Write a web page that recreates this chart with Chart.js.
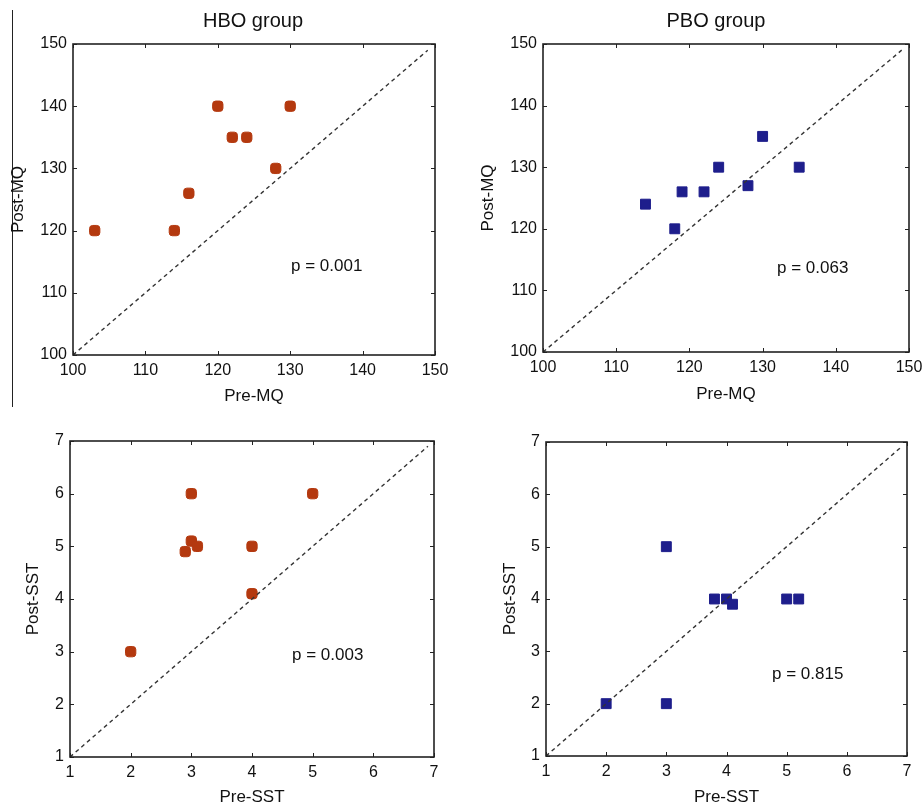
<!DOCTYPE html>
<html>
<head>
<meta charset="utf-8">
<script src="https://cdn.jsdelivr.net/npm/chart.js@4"></script>
<style>
  body { margin: 0; background: #fff; }
  #wrap { position: relative; width: 923px; height: 809px; }
  #wrap canvas { position: absolute; }
  #rule { position: absolute; left: 12px; top: 10px; width: 1px; height: 397px; background: #222; }
</style>
</head>
<body>
<div id="wrap">
  <div id="rule"></div>
  <canvas id="c1" style="left:0;top:0"></canvas>
  <canvas id="c2" style="left:461px;top:0"></canvas>
  <canvas id="c3" style="left:0;top:410px"></canvas>
  <canvas id="c4" style="left:461px;top:410px"></canvas>
</div>
<script>
// values
const hboPreMQ = [103, 114, 116, 120, 122, 124, 128, 130];
const hboPostMQ = [120, 120, 126, 140, 135, 135, 130, 140];
const pboPreMQ = [114, 118, 119, 122, 124, 128, 130, 135];
const pboPostMQ = [124, 120, 126, 126, 130, 127, 135, 130];
const hboPreSST = [2, 2.9, 3, 3.1, 3, 4, 4, 5];
const hboPostSST = [3, 4.9, 5.1, 5, 6, 5, 4.1, 6];
const pboPreSST = [2, 3, 3, 3.8, 4, 4.1, 5, 5.2];
const pboPostSST = [2, 5, 2, 4, 4, 3.9, 4, 4];

const mqTicks = [100, 110, 120, 130, 140, 150];
const sstTicks = [1, 2, 3, 4, 5, 6, 7];
const mqDiag = [100, 149];
const sstDiag = [1, 6.9];

const groupTitles = ["HBO group", "PBO group"];
const pValues = ["p = 0.001", "p = 0.063", "p = 0.003", "p = 0.815"];

const FONT = "'Liberation Sans', Arial, sans-serif";
const HBO_COLOR = "#b4390f";
const PBO_COLOR = "#1e1e8c";

// draws frame, inward ticks and the free texts
const framePlugin = {
    id: "frame",
    afterDatasetsDraw(chart, args, opts) {
        const ctx = chart.ctx;
        const a = chart.chartArea;
        const xs = chart.scales.x;
        const ys = chart.scales.y;
        ctx.save();
        ctx.strokeStyle = "#222";
        ctx.lineWidth = 1;
        xs.ticks.forEach(t => {
            const px = Math.round(xs.getPixelForValue(t.value)) + 0.5;
            ctx.beginPath();
            ctx.moveTo(px, a.bottom); ctx.lineTo(px, a.bottom - 4);
            ctx.moveTo(px, a.top); ctx.lineTo(px, a.top + 4);
            ctx.stroke();
        });
        ys.ticks.forEach(t => {
            const py = Math.round(ys.getPixelForValue(t.value)) + 0.5;
            ctx.beginPath();
            ctx.moveTo(a.left, py); ctx.lineTo(a.left + 4, py);
            ctx.moveTo(a.right, py); ctx.lineTo(a.right - 4, py);
            ctx.stroke();
        });
        ctx.lineWidth = 1.6;
        ctx.strokeRect(a.left, a.top, a.right - a.left, a.bottom - a.top);

        ctx.fillStyle = "#111";
        ctx.textBaseline = "middle";
        if (opts.title) {
            ctx.font = "20px " + FONT;
            ctx.textAlign = "center";
            ctx.fillText(opts.title, opts.titleX, 21);
        }
        ctx.font = "17px " + FONT;
        ctx.textAlign = "left";
        ctx.fillText(opts.pText, opts.pX, opts.pY);
        ctx.restore();
    }
};

function makePanel(id, cfg) {
    new Chart(document.getElementById(id), {
        type: "scatter",
        data: {
            datasets: [
                {
                    type: "line",
                    data: [{ x: cfg.diag[0], y: cfg.diag[0] }, { x: cfg.diag[1], y: cfg.diag[1] }],
                    borderColor: "#333",
                    borderWidth: 1.4,
                    borderDash: [4, 3.5],
                    pointRadius: 0,
                    fill: false
                },
                {
                    data: cfg.xs.map((v, i) => ({ x: v, y: cfg.ys[i] })),
                    pointStyle: cfg.style,
                    pointRadius: cfg.radius,
                    backgroundColor: cfg.color,
                    borderColor: cfg.color,
                    borderWidth: 1
                }
            ]
        },
        options: {
            responsive: false,
            animation: false,
            layout: { padding: { top: cfg.top, right: cfg.right, left: 0, bottom: 0 } },
            plugins: {
                legend: { display: false },
                tooltip: { enabled: false },
                frame: cfg.text
            },
            scales: {
                x: {
                    type: "linear",
                    min: cfg.ticks[0],
                    max: cfg.ticks[cfg.ticks.length - 1],
                    afterBuildTicks: s => { s.ticks = cfg.ticks.map(v => ({ value: v })); },
                    afterFit: s => { s.height = cfg.xh; s.paddingLeft = 0; s.paddingRight = 0; },
                    grid: { display: false, drawTicks: false },
                    border: { display: false },
                    ticks: { padding: 6, color: "#111", font: { family: FONT, size: 16 } },
                    title: {
                        display: true, text: cfg.xTitle, color: "#111",
                        font: { family: FONT, size: 17 },
                        padding: { top: 0, bottom: cfg.xtPad }
                    }
                },
                y: {
                    type: "linear",
                    min: cfg.ticks[0],
                    max: cfg.ticks[cfg.ticks.length - 1],
                    afterBuildTicks: s => { s.ticks = cfg.ticks.map(v => ({ value: v })); },
                    afterFit: s => { s.width = cfg.yw; s.paddingTop = 0; s.paddingBottom = 0; },
                    grid: { display: false, drawTicks: false },
                    border: { display: false },
                    ticks: { padding: 6, color: "#111", font: { family: FONT, size: 16 } },
                    title: {
                        display: true, text: cfg.yTitle, color: "#111",
                        font: { family: FONT, size: 17 },
                        padding: { top: cfg.ytPad, bottom: 0 }
                    }
                }
            }
        },
        plugins: [framePlugin]
    });
}

function sizeCanvas(id, w, h) {
    const c = document.getElementById(id);
    c.width = w; c.height = h;
    c.style.width = w + "px"; c.style.height = h + "px";
}
sizeCanvas("c1", 461, 410);
sizeCanvas("c2", 462, 410);
sizeCanvas("c3", 461, 399);
sizeCanvas("c4", 462, 399);

makePanel("c1", {
    xs: hboPreMQ, ys: hboPostMQ, ticks: mqTicks, diag: mqDiag,
    style: "rectRounded", radius: 6, color: HBO_COLOR,
    xTitle: "Pre-MQ", yTitle: "Post-MQ",
    top: 44, right: 26, xh: 55, yw: 73, xtPad: 3, ytPad: 8,
    text: { title: groupTitles[0], titleX: 253, pText: pValues[0], pX: 291, pY: 266 }
});
makePanel("c2", {
    xs: pboPreMQ, ys: pboPostMQ, ticks: mqTicks, diag: mqDiag,
    style: "rect", radius: 7, color: PBO_COLOR,
    xTitle: "Pre-MQ", yTitle: "Post-MQ",
    top: 44, right: 14, xh: 58, yw: 82, xtPad: 5, ytPad: 17,
    text: { title: groupTitles[1], titleX: 255, pText: pValues[1], pX: 316, pY: 268 }
});
makePanel("c3", {
    xs: hboPreSST, ys: hboPostSST, ticks: sstTicks, diag: sstDiag,
    style: "rectRounded", radius: 6, color: HBO_COLOR,
    xTitle: "Pre-SST", yTitle: "Post-SST",
    top: 31, right: 27, xh: 52, yw: 70, xtPad: 1, ytPad: 23,
    text: { pText: pValues[2], pX: 292, pY: 245 }
});
makePanel("c4", {
    xs: pboPreSST, ys: pboPostSST, ticks: sstTicks, diag: sstDiag,
    style: "rect", radius: 7, color: PBO_COLOR,
    xTitle: "Pre-SST", yTitle: "Post-SST",
    top: 32, right: 16, xh: 53, yw: 85, xtPad: 1, ytPad: 39,
    text: { pText: pValues[3], pX: 311, pY: 264 }
});
</script>
</body>
</html>
